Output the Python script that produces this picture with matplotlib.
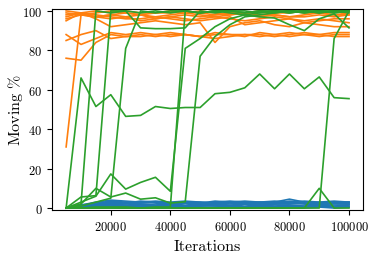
import matplotlib
matplotlib.use("Agg")
import matplotlib.pyplot as plt
import numpy as np

plt.rcParams['font.family'] = 'serif'
plt.rcParams['font.serif'] = ['cmr10']
plt.rcParams['mathtext.fontset'] = 'cm'
plt.rcParams['axes.unicode_minus'] = False
plt.rcParams['axes.formatter.use_mathtext'] = True

iterations = list(range(5000, 100001, 5000))

blue_runs = [
    [0,1.5,2.5,3.5,3,2.5,3,2.5,3,3,2.5,3,3.5,3,2.5,3.5,3,2.5,3,2.5],
    [0,1,2,2.5,2,3,2.5,2,2.5,2,3,3.5,3,2,3,4.5,3,2.5,3,3],
    [0,0.5,1.5,2,1.5,2,1.5,2,1.5,2,2,1.5,2,2.5,2,2,2.5,2,2,2],
    [0,0.5,1,1.5,1,1.5,1,1.5,1,1.5,1,1.5,1,1.5,1,1.5,1,1.5,1,1.5],
    [0,0,0.5,1,0.5,1,0.5,0.5,1,0.5,0.5,1,0.5,1,0.5,1,0.5,1,0.5,0.5],
    [0,1,2,3,2.5,3.5,3,2.5,3,2.5,3.5,3,2.5,3,3.5,3,3.5,3,2.5,3],
    [0,0.5,1,0.5,1,0.5,1,1,0.5,1,1.5,1,0.5,1,1,0.5,1,1.5,1,1],
    [0,1.5,3,4,3.5,3,3.5,3,3.5,3,2.5,3,2.5,3,2.5,3,2.5,3,3.5,3],
    [0,0,0,0.5,0,0.5,0,0.5,0,0.5,0,0.5,0,0.5,0,0.5,0,0.5,0,0.5],
    [0,1,1.5,2,2.5,2,1.5,2,2.5,1.5,2,2.5,2,1.5,2,2.5,2,1.5,2.5,2],
]

orange_runs = [
    [31,98,97,98,99,98,97,98,99,98,97,98,99,98,98,97,98,99,98,98],
    [76,75,84,88,87,87,88,87,88,87,88,88,87,89,88,87,88,87,88,88],
    [85,88,90,86,87,88,87,88,88,87,86,87,88,88,87,88,89,88,87,87],
    [88,83,86,89,88,89,88,89,88,87,89,88,88,87,88,89,88,88,89,89],
    [95,99,96,92,93,94,95,94,93,94,84,92,94,95,93,92,94,93,92,92],
    [97,99,98,97,96,96,97,96,95,96,97,96,95,96,97,96,95,96,95,94],
    [98,99,97,96,97,95,96,97,96,95,96,97,93,94,95,96,94,95,96,96],
    [100,99,100,99,100,99,99,100,99,100,99,98,99,100,99,99,100,99,100,100],
    [96,98,97,98,97,98,96,97,98,97,98,99,98,97,98,97,97,98,97,98],
    [99,98,99,100,99,98,99,99,100,99,98,99,99,98,99,100,99,99,98,99],
]

green_runs = [
    [0,66,51.5,57.5,46.5,47,51.5,50.5,51,51,58,58.7,61,68,60.5,68,60.5,66.5,56,55.5],
    [0,2,100,99,100,99,100,99,100,99,100,99,98,97,96.4,93,90,96,98.5,91.4],
    [0,5.6,6.3,100,100,91.4,91,91,91.4,100,99,100,100,99,100,100,99,100,100,99],
    [0,1,3,5,81,100,99,100,100,99,100,100,99,100,99,100,100,99,100,100],
    [0,2,10,5.6,7.6,4.5,5.2,2.5,3.2,77,87,93,97,98,99,100,99,100,99,100],
    [0,3,6,17.3,9.6,13,15.6,8.5,81,86,92,96,98,99,100,99,100,100,99,100],
    [0,0,0.5,0.5,0.5,0,0.5,0.5,100,99,100,100,99,100,100,99,100,99,100,100],
    [0,0,0,0,0,0,0,0,0,0,0,0,0,0,0,0,0,10,0,0],
    [0,0,0,0,0,0,0,0,0,0,0,0,0,0,0,0,0,0,86,100],
]

fig = plt.figure(figsize=(3.74, 2.55), dpi=100)
ax = fig.add_axes([0.139, 0.1725, 0.832, 0.7885])

for run in blue_runs:
    ax.plot(iterations, run, color='C0', lw=1.2)
for run in orange_runs:
    ax.plot(iterations, run, color='C1', lw=1.2)
for run in green_runs:
    ax.plot(iterations, run, color='C2', lw=1.2)

ax.set_ylim(-1, 101)
ax.set_xticks([20000, 40000, 60000, 80000, 100000])
ax.set_yticks([0, 20, 40, 60, 80, 100])
ax.tick_params(labelsize=9)
ax.set_xlabel('Iterations', fontsize=11.5)
ax.set_ylabel(r'Moving $\%$', fontsize=11.5)
ax.yaxis.set_label_coords(-0.088, 0.5)
ax.xaxis.set_label_coords(0.5, -0.145)

fig.savefig('out.png', dpi=100)
